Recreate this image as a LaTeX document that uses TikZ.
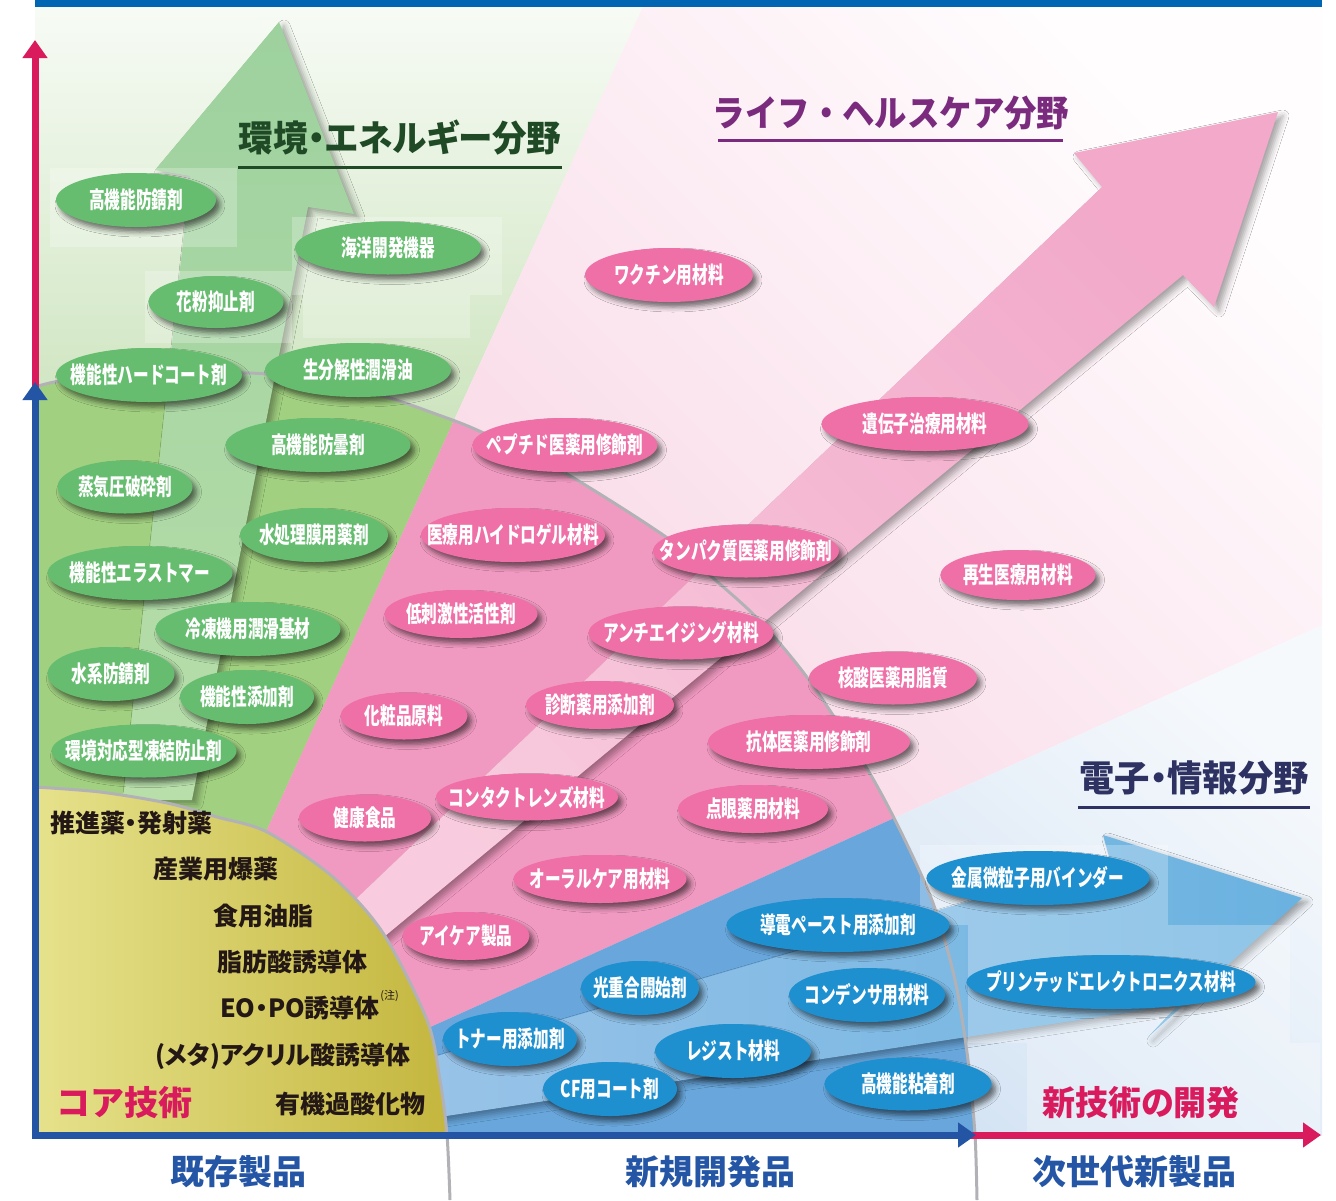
\documentclass[tikz,border=0pt]{standalone}
\usepackage{fontspec}
\usepackage{graphicx}
\newfontfamily\jp{Noto Sans CJK JP}
\newfontfamily\jpp{Noto Sans CJK JP}[RawFeature=+palt]
\usetikzlibrary{arrows.meta,shapes.geometric,shadows.blur}

\definecolor{topbar}{HTML}{0066B3}
\definecolor{axred}{HTML}{D91A5D}
\definecolor{axblue}{HTML}{2355A4}
\definecolor{gnodec}{HTML}{66BD70}
\definecolor{pnodec}{HTML}{EF6FA7}
\definecolor{bnodec}{HTML}{1E8FCF}
\definecolor{gzone}{HTML}{A1D080}
\definecolor{pzone}{HTML}{F19AC1}
\definecolor{bzone}{HTML}{68A6DB}
\definecolor{gbgtop}{HTML}{F7FBF5}
\definecolor{gbgbot}{HTML}{CDE4BE}
\definecolor{pbgtop}{HTML}{FFFDFE}
\definecolor{pbgbot}{HTML}{F7CFE0}
\definecolor{bbgtop}{HTML}{F6F9FC}
\definecolor{bbgbot}{HTML}{C5DAF0}
\definecolor{garrtop}{HTML}{9DD19E}
\definecolor{garrbot}{HTML}{B8DEAA}
\definecolor{parrtop}{HTML}{F2A9CA}
\definecolor{parrbot}{HTML}{F8CCDE}
\definecolor{barrl}{HTML}{99C3E8}
\definecolor{barrr}{HTML}{6AB2E0}
\definecolor{yell}{HTML}{E6E28C}
\definecolor{yelr}{HTML}{C4B63E}
\definecolor{arcgray}{HTML}{B2B2B6}
\definecolor{coretext}{HTML}{231815}
\definecolor{envgreen}{HTML}{1F4A25}
\definecolor{lifepurple}{HTML}{7A2B7E}
\definecolor{elecnavy}{HTML}{2E3262}
\definecolor{labelblue}{HTML}{2456A5}

\newcommand\nodetxt[1]{\makebox[0pt]{\scalebox{0.68}[1]{#1}}}

\begin{document}
\begin{tikzpicture}[x=1pt,y=-1pt,
  bubble/.style={shape=ellipse, inner sep=0pt, text=white,
    font=\jp\bfseries\fontsize{23}{23}\selectfont,
    blur shadow={shadow xshift=4pt, shadow yshift=-5pt, shadow blur radius=5pt, shadow opacity=55}},
  gbub/.style={bubble, fill=gnodec},
  pbub/.style={bubble, fill=pnodec},
  bbub/.style={bubble, fill=bnodec},
  sz/.style 2 args={minimum width=#1, minimum height=#2},
  coretxt/.style={anchor=west, inner sep=0pt, text=coretext, font=\jpp\bfseries\fontsize{25}{25}\selectfont},
  bigred/.style={inner sep=0pt, text=axred, font=\jp\bfseries\fontsize{34}{34}\selectfont},
  axlabel/.style={inner sep=0pt, text=labelblue, font=\jp\bfseries\fontsize{34}{34}\selectfont},
  titletxt/.style={inner sep=0pt, font=\jp\bfseries\fontsize{36}{36}\selectfont},
  titlep/.style={inner sep=0pt, font=\jpp\bfseries\fontsize{36}{36}\selectfont},
  glassbox/.style={fill=white, fill opacity=0.25},
  arrshadow/.style={blur shadow={shadow xshift=5pt, shadow yshift=-4pt, shadow blur radius=6pt, shadow opacity=35}},
  axtip/.style={line width=7pt},
]
\useasboundingbox (0,0) rectangle (1336,1200);
\fill[white] (0,0) rectangle (1336,1200);

\begin{scope}
\clip (35,7) rectangle (1322,1135);
% outside-arc backgrounds
\begin{scope}
\clip (0,0) -- (646,0) -- (98,1200) -- (0,1200) -- cycle;
\shade[top color=gbgtop, bottom color=gbgbot] (35,7) rectangle (660,430);
\end{scope}
\begin{scope}
\clip (646,0) -- (1336,0) -- (1336,619) -- (111,1171) -- cycle;
\shade[top color=pbgtop, bottom color=pbgbot, shading angle=-45] (300,0) rectangle (1336,1000);
\end{scope}
\begin{scope}
\clip (1336,619) -- (1336,1200) -- (98,1200) -- (111,1171) -- cycle;
\shade[top color=bbgtop, bottom color=bbgbot, shading angle=-40] (400,600) rectangle (1336,1140);
\end{scope}
% inside-arc zones
\begin{scope}
\clip (35,1140) -- (35,387) -- plot[smooth] coordinates {(35,387) (67,380) (150,375) (250,373) (330,382) (387,397) (433,413) (477,430) (560,470) (666,537) (713,578) (759,620) (809,680) (866,767) (900,830) (933,903) (955,980) (968,1060) (975,1135)} -- (975,1140) -- cycle;
\fill[gzone] (0,0) -- (646,0) -- (98,1200) -- (0,1200) -- cycle;
\fill[pzone] (646,0) -- (1336,0) -- (1336,619) -- (111,1171) -- cycle;
\fill[bzone] (1336,619) -- (1336,1200) -- (98,1200) -- (111,1171) -- cycle;
\end{scope}
% big arrows
\shade[top color=garrtop, bottom color=garrbot, arrshadow]
  (279,22) -- (354,214) -- (308,207) -- (192,800) -- (123,800) -- (190,176) -- (155,170) -- cycle;
\shade[top color=parrtop, bottom color=parrbot, shading angle=-45, arrshadow]
  (1278,112) -- (1214,307) -- (1183,275) -- (338,975) -- (313,940) -- (1102,187) -- (1074,153) -- cycle;
\shade[left color=barrl, right color=barrr, arrshadow]
  (1302,898) -- (1148,1037) -- (1178,1005) -- (420,1120) -- (420,1061) -- (1110,860) -- (1103,835) -- cycle;
% core
\shade[left color=yell, right color=yelr]
  (35,1140) -- (35,787) -- plot[smooth] coordinates {(35,787) (100,792) (167,803) (217,817) (267,832) (333,877) (383,933) (427,1020) (440,1080) (447,1135)} -- (447,1140) -- cycle;
% translucent boxes
\fill[glassbox] (50,168) rectangle (237,247);
\fill[glassbox] (292,217) rectangle (502,295);
\fill[glassbox] (145,271) rectangle (292,343);
\fill[glassbox] (303,295) rectangle (470,338);
\fill[glassbox] (920,845) rectangle (1168,925);
\fill[glassbox] (968,925) rectangle (1290,1043);
\fill[glassbox] (1027,1043) rectangle (1320,1133);
\end{scope}

% arcs
\draw[arcgray, line width=3pt] plot[smooth] coordinates {(35,387) (67,380) (150,375) (250,373) (330,382) (387,397) (433,413) (477,430) (560,470) (666,537) (713,578) (759,620) (809,680) (866,767) (900,830) (933,903) (955,980) (968,1060) (975,1135) (977,1200)};
\draw[arcgray, line width=3pt] plot[smooth] coordinates {(35,787) (100,792) (167,803) (217,817) (267,832) (333,877) (383,933) (427,1020) (440,1080) (447,1135) (450,1200)};

% green nodes
\node[gbub, sz={160}{54}] (g1) at (136,200) {\nodetxt{高機能防錆剤}};
\node[gbub, sz={186}{53}] (g2) at (388,248) {\nodetxt{海洋開発機器}};
\node[gbub, sz={135}{52}] (g3) at (216,302) {\nodetxt{花粉抑止剤}};
\node[gbub, sz={186}{54}] (g4) at (149,375) {\nodetxt{機能性ハードコート剤}};
\node[gbub, sz={186}{54}] (g5) at (358,370) {\nodetxt{生分解性潤滑油}};
\node[gbub, sz={185}{54}] (g6) at (318,445) {\nodetxt{高機能防曇剤}};
\node[gbub, sz={135}{53}] (g7) at (125,487) {\nodetxt{蒸気圧破砕剤}};
\node[gbub, sz={148}{54}] (g8) at (314,535) {\nodetxt{水処理膜用薬剤}};
\node[gbub, sz={185}{54}] (g9) at (140,573) {\nodetxt{機能性エラストマー}};
\node[gbub, sz={185}{54}] (g10) at (248,629) {\nodetxt{冷凍機用潤滑基材}};
\node[gbub, sz={127}{54}] (g11) at (111,674) {\nodetxt{水系防錆剤}};
\node[gbub, sz={134}{54}] (g12) at (247,697) {\nodetxt{機能性添加剤}};
\node[gbub, sz={185}{53}] (g13) at (144,751) {\nodetxt{環境対応型凍結防止剤}};

% pink nodes
\node[pbub, sz={168}{54}] (p1) at (669,275) {\nodetxt{ワクチン用材料}};
\node[pbub, sz={207}{54}] (p2) at (925,424) {\nodetxt{遺伝子治療用材料}};
\node[pbub, sz={185}{54}] (p3) at (565,445) {\nodetxt{ペプチド医薬用修飾剤}};
\node[pbub, sz={184}{54}] (p4) at (513,535) {\nodetxt{医療用ハイドロゲル材料}};
\node[pbub, sz={186}{53}] (p5) at (746,551) {\nodetxt{タンパク質医薬用修飾剤}};
\node[pbub, sz={155}{50}] (p6) at (1018,575) {\nodetxt{再生医療用材料}};
\node[pbub, sz={153}{48}] (p7) at (461,614) {\nodetxt{低刺激性活性剤}};
\node[pbub, sz={185}{53}] (p8) at (681,633) {\nodetxt{アンチエイジング材料}};
\node[pbub, sz={168}{53}] (p9) at (893,678) {\nodetxt{核酸医薬用脂質}};
\node[pbub, sz={127}{47}] (p10) at (404,716) {\nodetxt{化粧品原料}};
\node[pbub, sz={148}{48}] (p11) at (600,705) {\nodetxt{診断薬用添加剤}};
\node[pbub, sz={202}{54}] (p12) at (809,742) {\nodetxt{抗体医薬用修飾剤}};
\node[pbub, sz={132}{47}] (p13) at (365,818) {\nodetxt{健康食品}};
\node[pbub, sz={182}{47}] (p14) at (527,797) {\nodetxt{コンタクトレンズ材料}};
\node[pbub, sz={150}{48}] (p15) at (753,809) {\nodetxt{点眼薬用材料}};
\node[pbub, sz={173}{48}] (p16) at (600,879) {\nodetxt{オーラルケア用材料}};
\node[pbub, sz={127}{48}] (p17) at (466,936) {\nodetxt{アイケア製品}};

% blue nodes
\node[bbub, sz={223}{54}] (b1) at (1038,878) {\nodetxt{金属微粒子用バインダー}};
\node[bbub, sz={223}{54}] (b2) at (838,925) {\nodetxt{導電ペースト用添加剤}};
\node[bbub, sz={118}{54}] (b3) at (640,988) {\nodetxt{光重合開始剤}};
\node[bbub, sz={156}{54}] (b4) at (867,995) {\nodetxt{コンデンサ用材料}};
\node[bbub, sz={289}{54}] (b5) at (1111,982) {\nodetxt{プリンテッドエレクトロニクス材料}};
\node[bbub, sz={134}{54}] (b6) at (510,1039) {\nodetxt{トナー用添加剤}};
\node[bbub, sz={156}{54}] (b7) at (733,1051) {\nodetxt{レジスト材料}};
\node[bbub, sz={134}{54}] (b8) at (610,1089) {\nodetxt{CF用コート剤}};
\node[bbub, sz={167}{53}] (b9) at (908,1084) {\nodetxt{高機能粘着剤}};

% core technology texts
\node[coretxt] (c1) at (50,823) {推進薬・発射薬};
\node[coretxt] (c2) at (153,869) {産業用爆薬};
\node[coretxt] (c3) at (213,916) {食用油脂};
\node[coretxt] (c4) at (217,962) {脂肪酸誘導体};
\node[coretxt] (c5) at (220,1008) {EO・PO誘導体};
\node[coretxt] (c6) at (155,1056) {(メタ)アクリル酸誘導体};
\node[coretxt] (c7) at (275,1104) {有機過酸化物};
\node[inner sep=0pt, anchor=west, text=coretext, font=\jp\fontsize{11}{11}\selectfont] (c5n) at (c5.north east) {(注)};
\node[bigred, anchor=west] (core) at (56,1103) {コア技術};
\node[bigred] (newtech) at (1141,1103) {\scalebox{0.97}[1]{新技術の開発}};

% axes
\coordinate (O) at (35,1135);
\coordinate (Ymid) at (35,382);
\coordinate (Yred) at (35,400);
\coordinate (Ytop) at (35,40);
\coordinate (Xmid) at (976,1135);
\coordinate (Xred) at (960,1135);
\coordinate (Xend) at (1321,1135);
\coordinate (BarL) at (35,0);
\coordinate (BarR) at (1322,7);
\fill[topbar] (BarL) rectangle (BarR);
\draw[axred, axtip, -{Triangle[width=24pt,length=18pt]}] (Yred) -- (Ytop);
\draw[axred, axtip, -{Triangle[width=24pt,length=18pt]}] (Xred) -- (Xend);
\draw[axblue, axtip, {Triangle[width=24pt,length=18pt]}-{Triangle[width=24pt,length=18pt]}] (Ymid) -- (O) -- (Xmid);

% axis labels
\node[axlabel] (lab1) at (238,1172) {既存製品};
\node[axlabel] (lab2) at (710,1172) {新規開発品};
\node[axlabel] (lab3) at (1134,1172) {次世代新製品};

% titles
\node[titlep, text=envgreen] (tenv) at (400,138) {\scalebox{0.96}[1]{環境・エネルギー分野}};
\coordinate (envL) at (238,167); \coordinate (envR) at (562,167);
\draw[envgreen, line width=3pt] (envL) -- (envR);
\node[titletxt, text=lifepurple] (tlife) at (891,113) {\scalebox{0.9}[1]{ライフ・ヘルスケア分野}};
\coordinate (lifeL) at (718,140); \coordinate (lifeR) at (1063,140);
\draw[lifepurple, line width=3pt] (lifeL) -- (lifeR);
\node[titlep, text=elecnavy] (telec) at (1194,778) {\scalebox{0.98}[1]{電子・情報分野}};
\coordinate (elecL) at (1078,807); \coordinate (elecR) at (1310,807);
\draw[elecnavy, line width=3pt] (elecL) -- (elecR);
\end{tikzpicture}
\end{document}
